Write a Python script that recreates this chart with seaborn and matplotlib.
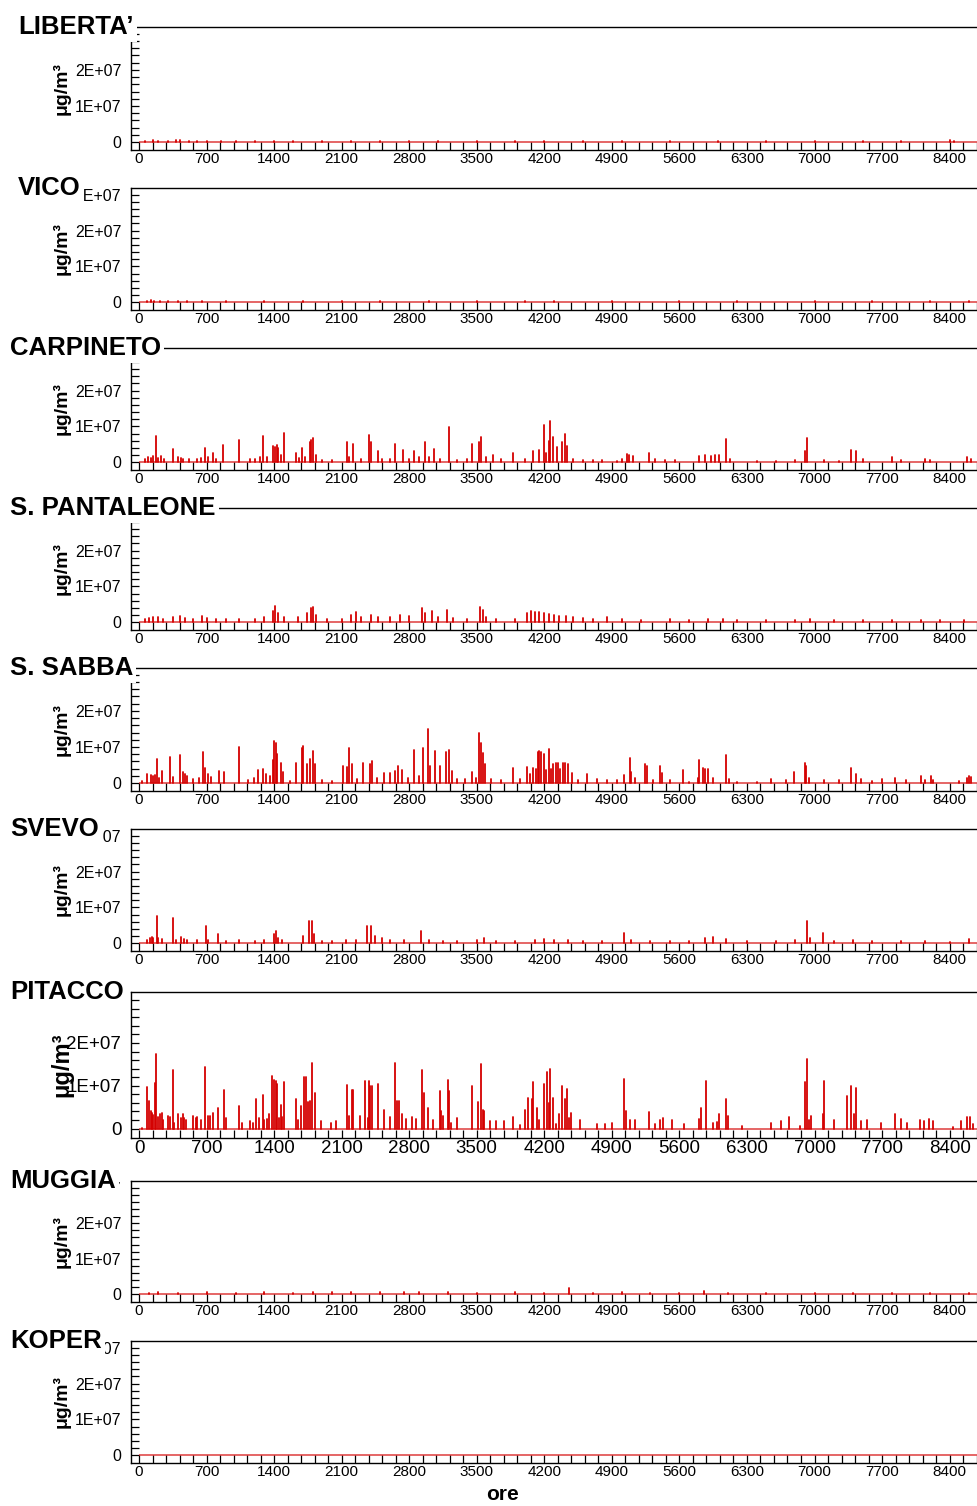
import numpy as np
import pandas as pd
import matplotlib
matplotlib.use("Agg")
import matplotlib.pyplot as plt
import matplotlib.transforms as mtransforms
from matplotlib.ticker import MultipleLocator, FixedLocator, FixedFormatter
import seaborn as sns

# ---------------- data (hour, concentration in 1e6 ug/m3) ----------------
STATIONS = ["LIBERTA\u2019", "VICO", "CARPINETO", "S. PANTALEONE", "S. SABBA",
            "SVEVO", "PITACCO", "MUGGIA", "KOPER"]

liberta = [(60,0.3),(150,0.5),(200,0.4),(300,0.3),(380,0.5),(420,0.6),(520,0.4),(600,0.3),
           (700,0.4),(850,0.2),(1000,0.3),(1200,0.2),(1400,0.3),(1600,0.2),(1900,0.3),(2200,0.2),
           (2500,0.3),(2800,0.3),(3100,0.2),(3500,0.3),(3900,0.2),(4200,0.3),(4600,0.2),(5000,0.2),
           (5500,0.3),(6000,0.2),(6500,0.3),(7000,0.2),(7500,0.2),(7900,0.3),(8400,0.5),(8450,0.4)]

vico = [(80,0.3),(120,0.5),(160,0.4),(220,0.3),(300,0.4),(400,0.3),(500,0.4),(650,0.3),(900,0.2),
        (1300,0.3),(1700,0.2),(2100,0.3),(2500,0.2),(3000,0.2),(3500,0.3),(4000,0.2),(4300,0.3),
        (4900,0.2),(5600,0.2),(6200,0.2),(7000,0.3),(7600,0.2),(8200,0.3),(8600,0.3)]

carpineto = [(60,0.8),(95,1.5),(120,1.2),(150,1.8),(176,7.4),(200,1.2),(230,1.6),(260,1.0),(349,3.7),
             (400,1.4),(430,1.2),(460,1.0),(520,0.8),(600,1.0),(640,1.2),(688,4.0),(720,1.3),(764,2.6),
             (800,0.8),(874,4.9),(1040,6.2),(1150,0.8),(1200,1.0),(1250,1.5),(1286,7.3),(1330,1.5),
             (1393,4.6),(1410,4.3),(1425,4.8),(1445,4.0),(1470,2.0),(1504,8.2),(1628,2.5),(1660,1.2),
             (1687,3.9),(1720,1.5),(1773,5.5),(1785,6.3),(1800,6.7),(1830,2.0),(1900,0.6),(2000,0.5),
             (2154,5.7),(2180,1.5),(2216,5.1),(2300,1.0),(2388,7.5),(2400,5.6),(2477,3.2),(2520,1.0),
             (2600,1.0),(2655,5.1),(2734,3.5),(2800,1.0),(2845,3.0),(2900,1.5),(2963,5.6),(3000,1.5),
             (3060,3.7),(3120,1.0),(3208,9.7),(3300,0.6),(3400,0.8),(3448,5.1),(3524,5.6),(3545,6.9),
             (3600,1.5),(3673,2.0),(3750,0.8),(3874,2.6),(4000,1.0),(4083,3.2),(4142,3.4),(4193,10.5),
             (4220,2.5),(4245,6.0),(4263,11.6),(4290,6.9),(4332,4.2),(4384,5.7),(4411,7.9),(4435,4.6),
             (4500,1.0),(4600,0.6),(4700,0.5),(4800,0.5),(4950,0.4),(5000,0.8),(5057,2.3),(5080,2.0),
             (5120,1.8),(5289,2.6),(5350,0.8),(5450,0.6),(5550,0.5),(5804,1.6),(5870,1.9),(5930,1.8),
             (5970,2.0),(6010,2.0),(6080,6.5),(6120,1.0),(6400,0.3),(6600,0.4),(6800,0.5),(6906,3.0),
             (6927,6.8),(7100,0.5),(7250,0.4),(7383,3.5),(7435,3.0),(7500,0.8),(7798,1.4),(7900,0.6),
             (8150,0.8),(8200,0.7),(8583,1.4),(8620,0.8)]

pantaleone = [(60,0.8),(100,1.2),(150,1.5),(200,1.3),(250,1.0),(349,1.5),(420,1.8),(480,1.2),(560,1.0),
              (650,1.6),(700,1.2),(800,1.0),(900,0.8),(1040,0.8),(1200,1.0),(1300,1.5),(1390,3.0),
              (1410,4.4),(1440,2.5),(1500,1.5),(1650,1.5),(1740,2.5),(1780,4.0),(1800,4.2),(1830,2.0),
              (1950,0.8),(2100,1.0),(2200,2.0),(2250,2.8),(2300,1.5),(2400,2.0),(2480,1.3),(2600,1.5),
              (2700,2.0),(2800,1.8),(2930,3.9),(2960,2.5),(3040,3.0),(3100,1.5),(3190,3.3),(3250,1.2),
              (3400,1.0),(3530,4.2),(3560,3.3),(3600,1.5),(3700,0.8),(3900,1.0),(4020,2.5),(4060,3.0),
              (4100,2.8),(4150,2.9),(4200,2.5),(4250,2.2),(4300,2.0),(4350,1.8),(4420,1.8),(4500,1.4),
              (4600,1.2),(4700,1.0),(4850,1.3),(5000,0.8),(5200,0.6),(5500,0.8),(5700,0.6),(5900,1.0),
              (6050,0.8),(6200,0.5),(6500,0.5),(6800,0.6),(6950,0.8),(7200,0.5),(7500,0.6),(7800,0.5),
              (8100,0.7),(8300,0.5),(8550,0.6)]

sabba = [(30,0.5),(80,2.6),(120,2.2),(145,2.0),(165,2.2),(183,6.6),(210,1.5),(235,3.3),(321,7.2),
         (350,1.6),(425,7.7),(453,3.1),(475,2.4),(500,1.9),(560,1.0),(620,1.5),(660,8.6),(685,4.1),
         (715,2.6),(750,1.7),(830,3.3),(881,3.1),(1040,10.0),(1130,0.8),(1190,1.5),(1237,3.5),
         (1289,3.8),(1320,2.6),(1360,2.0),(1386,6.3),(1403,11.7),(1420,11.2),(1434,8.0),(1469,5.6),
         (1496,3.1),(1560,0.6),(1625,5.6),(1687,9.8),(1704,10.3),(1746,5.2),(1773,6.6),(1801,8.9),
         (1825,5.2),(1900,0.8),(2000,0.6),(2119,4.7),(2153,4.4),(2177,9.6),(2205,5.4),(2260,1.0),
         (2320,5.6),(2389,5.2),(2416,6.1),(2470,1.5),(2534,2.9),(2603,2.9),(2648,3.3),(2683,4.7),
         (2724,3.5),(2790,1.5),(2845,9.1),(2900,2.0),(2948,9.8),(2993,14.9),(3017,4.7),(3067,8.9),
         (3119,4.7),(3181,8.7),(3216,9.1),(3240,3.3),(3300,1.2),(3380,1.0),(3448,3.1),(3490,1.5),
         (3524,13.8),(3541,11.2),(3562,8.4),(3586,5.2),(3650,1.0),(3750,0.8),(3874,4.1),(3950,1.0),
         (4019,4.4),(4050,2.6),(4083,4.3),(4110,4.0),(4131,8.7),(4142,8.9),(4169,8.6),(4193,8.0),
         (4215,3.5),(4245,9.4),(4270,4.0),(4290,5.2),(4324,5.6),(4339,5.6),(4360,3.8),(4393,5.5),
         (4418,5.6),(4446,5.2),(4487,2.9),(4550,0.8),(4647,2.6),(4750,1.0),(4850,0.8),(4950,0.8),
         (5031,2.2),(5085,7.0),(5102,3.1),(5140,1.5),(5240,5.2),(5264,4.7),(5330,0.8),(5403,4.7),
         (5420,2.9),(5500,0.8),(5638,3.5),(5700,0.4),(5790,1.5),(5807,6.3),(5845,4.1),(5870,3.8),
         (5893,3.8),(5950,1.3),(6084,7.7),(6110,1.0),(6200,0.4),(6400,0.3),(6550,1.0),(6700,0.8),
         (6786,3.1),(6897,5.5),(6914,4.7),(6940,1.3),(7100,0.8),(7250,0.8),(7380,4.1),(7435,2.4),
         (7480,1.0),(7600,0.5),(7700,1.0),(7830,1.3),(7950,0.8),(8106,1.9),(8150,0.8),(8203,1.9),
         (8230,0.8),(8500,0.6),(8580,1.5),(8601,1.9),(8620,1.7)]

svevo = [(80,0.8),(110,1.4),(130,1.6),(150,1.3),(183,7.6),(200,1.5),(240,1.2),(349,6.9),(380,1.0),
         (430,1.6),(470,1.2),(500,1.0),(600,0.8),(695,4.7),(720,1.0),(820,2.6),(900,0.6),(1040,0.8),
         (1200,0.6),(1300,1.0),(1400,2.5),(1420,3.3),(1440,1.5),(1480,0.8),(1700,2.0),(1763,6.1),
         (1790,6.1),(1810,2.5),(1900,0.5),(2000,0.6),(2150,0.8),(2250,1.0),(2364,4.7),(2400,4.7),
         (2450,2.0),(2520,1.5),(2600,1.0),(2750,0.8),(2924,3.3),(3000,0.8),(3150,0.7),(3300,0.6),
         (3500,1.0),(3580,1.4),(3700,0.5),(3900,0.6),(4100,0.8),(4200,1.2),(4300,1.0),(4450,0.8),
         (4600,0.5),(4800,0.6),(5030,2.8),(5100,0.8),(5300,0.6),(5500,0.5),(5700,0.6),(5870,1.5),
         (5950,1.8),(6080,1.2),(6300,0.5),(6600,0.6),(6800,0.8),(6927,6.1),(6950,1.5),(7093,2.8),
         (7200,0.6),(7400,1.0),(7600,0.6),(7900,0.5),(8150,0.6),(8400,0.4),(8600,1.2)]

pitacco = [(30,0.2),(86,9.8),(106,6.4),(120,4.0),(135,3.6),(150,3.2),(169,10.6),(176,17.4),(200,2.6),
           (215,3.4),(235,3.6),(250,2.0),(300,3.0),(320,2.6),(349,13.7),(360,1.3),(408,3.5),(430,2.5),
           (453,3.3),(470,2.5),(490,2.0),(560,2.9),(590,2.5),(605,2.7),(640,2.0),(688,14.3),(710,2.9),
           (740,2.9),(771,3.6),(822,4.8),(881,9.1),(900,2.5),(1040,5.3),(1070,1.2),(1150,1.7),
           (1180,1.3),(1213,6.9),(1240,2.5),(1289,7.9),(1300,2.1),(1330,2.2),(1350,3.3),(1382,12.3),
           (1400,11.4),(1417,11.0),(1434,10.5),(1450,2.5),(1469,5.6),(1480,2.7),(1504,10.8),
           (1625,6.9),(1650,2.1),(1677,5.2),(1711,12.0),(1728,12.0),(1749,6.2),(1773,6.4),(1791,15.3),
           (1825,8.3),(1890,1.7),(1990,1.3),(2040,1.7),(2154,10.2),(2175,3.0),(2209,9.1),(2220,8.9),
           (2289,2.9),(2347,11.0),(2370,2.5),(2382,11.0),(2395,10.0),(2415,10.0),(2481,10.5),
           (2534,4.4),(2600,2.7),(2655,15.3),(2672,6.5),(2690,6.4),(2724,3.5),(2770,2.2),(2830,2.7),
           (2870,2.2),(2932,13.6),(2949,8.3),(2993,4.8),(3050,2.1),(3121,8.7),(3128,4.2),(3150,2.9),
           (3201,11.4),(3215,8.7),(3230,1.3),(3300,2.5),(3448,10.0),(3517,6.1),(3541,15.1),(3562,4.4),
           (3570,4.0),(3640,1.7),(3700,1.7),(3778,1.7),(3875,2.7),(3950,0.8),(4003,4.3),(4031,7.1),
           (4072,6.9),(4086,10.9),(4124,4.8),(4150,2.1),(4193,10.5),(4228,13.3),(4245,5.9),(4262,13.9),
           (4290,7.1),(4320,1.0),(4350,3.3),(4384,10.0),(4411,7.0),(4435,9.2),(4460,2.5),(4480,3.6),
           (4574,2.1),(4750,1.0),(4830,1.0),(4900,1.3),(5023,11.6),(5051,4.2),(5085,2.1),(5140,2.1),
           (5282,3.9),(5350,1.0),(5400,2.0),(5431,2.5),(5520,1.9),(5650,1.0),(5807,2.2),(5828,4.7),
           (5876,11.0),(5950,1.3),(5990,1.5),(6015,3.5),(6084,6.9),(6100,3.0),(6250,0.6),(6550,1.2),
           (6650,1.7),(6734,2.7),(6850,0.7),(6900,10.8),(6927,16.3),(6945,2.1),(6960,3.0),(7090,3.3),
           (7100,11.2),(7207,2.0),(7338,7.5),(7380,10.0),(7407,3.5),(7431,9.5),(7483,1.7),(7545,2.1),
           (7690,1.2),(7830,3.3),(7892,2.2),(7961,1.3),(8092,2.1),(8134,1.7),(8186,2.2),(8230,1.7),
           (8440,0.4),(8514,1.7),(8583,2.7),(8607,2.6),(8640,1.0)]

muggia = [(100,0.4),(200,0.5),(400,0.4),(700,0.5),(1000,0.4),(1300,0.5),(1600,0.4),(1800,0.7),
          (2000,0.6),(2200,0.7),(2500,0.5),(2750,0.6),(2900,0.7),(3200,0.5),(3500,0.4),(3900,0.5),
          (4200,0.4),(4460,1.7),(4700,0.4),(5000,0.5),(5300,0.3),(5600,0.4),(5850,1.0),(6100,0.4),
          (6500,0.3),(7000,0.4),(7400,0.3),(7800,0.4),(8200,0.3),(8600,0.4)]

koper = [(500,0.1),(2000,0.1),(4200,0.1),(7100,0.1),(8400,0.1)]

SERIES = [liberta, vico, carpineto, pantaleone, sabba, svevo, pitacco, muggia, koper]

X_MAJOR_TICKS = list(range(0, 8401, 700))
Y_MAJOR_TICKS = [0, 1e7, 2e7, 3e7]
Y_TICK_LABELS = ["0", "1E+07", "2E+07", "3E+07"]

# ---------------- layout (pixels) ----------------
W, H = 978, 1506
PANELS = [  # top, bottom, title x, big
    (27, 150, 18, False),
    (188, 310, 18, False),
    (348, 470, 10, False),
    (508, 630, 10, False),
    (668, 791, 10, False),
    (829, 951, 10, False),
    (992, 1138, 10, True),
    (1181, 1302, 10, False),
    (1341, 1463, 10, False),
]
RED = "#D40000"

sns.set_theme(style="ticks")
plt.rcParams['font.family'] = ['Liberation Sans', 'DejaVu Sans']
plt.rcParams['axes.edgecolor'] = 'black'
plt.rcParams['axes.linewidth'] = 1.0

fig = plt.figure(figsize=(W / 100, H / 100), dpi=100)

for name, series, (top, bot, tx, big) in zip(STATIONS, SERIES, PANELS):
    ax = fig.add_axes([131 / W, 1 - bot / H, (980 - 131) / W, (bot - top) / H])
    ax.set_facecolor("white")

    rows = []
    for i, (h, v) in enumerate(series):
        rows.append((h, 0.0, i))
        rows.append((h, v * 1e6, i))
    df = pd.DataFrame(rows, columns=["hour", "value", "seg"])
    ax.hlines(0, 0, 8760, color=RED, lw=1.2, alpha=0.7, zorder=2)
    sns.lineplot(data=df, x="hour", y="value", units="seg", estimator=None, sort=False,
                 color=RED, lw=1.3, ax=ax, legend=False, zorder=3)

    ax.set_xlim(-83, 8715)
    ax.set_ylim(-2.2e6, 31.9e6)
    ax.set_xlabel("")
    ax.set_ylabel("")

    ax.xaxis.set_major_locator(FixedLocator(X_MAJOR_TICKS))
    ax.xaxis.set_minor_locator(MultipleLocator(140))
    ax.yaxis.set_major_locator(FixedLocator(Y_MAJOR_TICKS))
    ax.yaxis.set_major_formatter(FixedFormatter(Y_TICK_LABELS))
    ax.yaxis.set_minor_locator(FixedLocator([v * 1e6 for v in range(2, 32, 2) if v % 10 != 0]))

    xsize = 13.5 if big else 11
    ysize = 13.5 if big else 11.5
    ax.tick_params(axis="both", which="both", direction="in", length=5.6, width=0.9,
                   color="black", top=False, right=False)
    ax.tick_params(axis="x", which="major", labelsize=xsize, pad=1.5, labelcolor="black")
    ax.tick_params(axis="y", which="major", labelsize=ysize, pad=7, labelcolor="black")

    ax.spines["right"].set_visible(False)
    for s in ("top", "left", "bottom"):
        ax.spines[s].set_color("black")
        ax.spines[s].set_linewidth(1.0)

    ax.text(-0.082, 0.5, "\u03bcg/m\u00b3", transform=ax.transAxes, rotation=90,
            ha="center", va="center", fontsize=17 if big else 14, fontweight="bold",
            color="black", zorder=5)

    trans = mtransforms.blended_transform_factory(fig.transFigure, ax.transAxes)
    trans = trans + mtransforms.ScaledTranslation(0, -7 / 100, fig.dpi_scale_trans)
    ax.text(tx / W, 1.0, name, transform=trans, ha="left", va="baseline",
            fontsize=18.5, fontweight="bold", color="black", clip_on=False, zorder=20,
            bbox=dict(facecolor="white", edgecolor="none", boxstyle="square,pad=0.12"))

fig.text(503 / W, 1 - 1495 / H, "ore", ha="center", va="center", fontsize=15,
         fontweight="bold", color="black")

fig.savefig("out.png", dpi=100, facecolor="white")
